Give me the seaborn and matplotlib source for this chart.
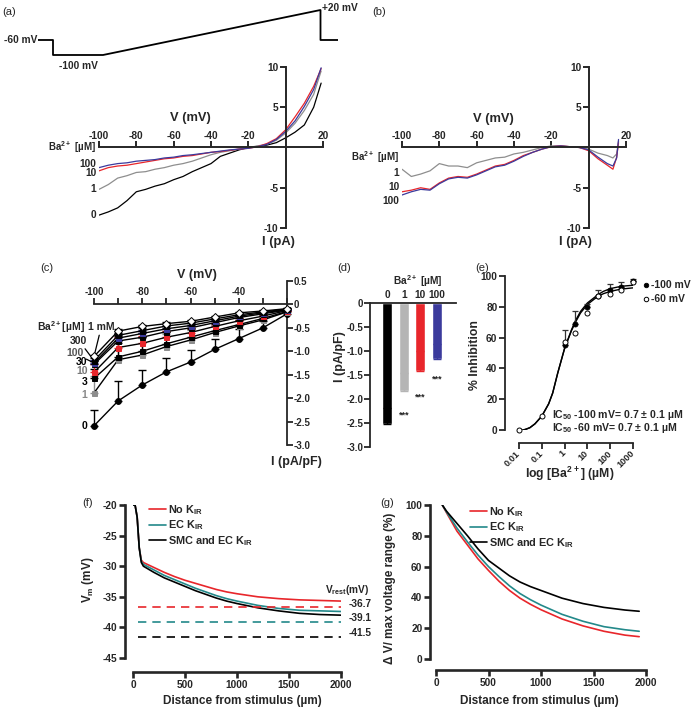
import numpy as np
import pandas as pd
import matplotlib
matplotlib.use('Agg')
import matplotlib.pyplot as plt
import seaborn as sns

sns.set_style('ticks')
plt.rcParams['font.family'] = ['Liberation Sans', 'DejaVu Sans']
plt.rcParams['font.weight'] = 'bold'
plt.rcParams['axes.unicode_minus'] = False
plt.rcParams['mathtext.default'] = 'regular'
plt.rcParams['axes.linewidth'] = 1.3

# ---------------- data ----------------
# (a) voltage protocol
protocol_time_ms = [0, 30, 30, 130, 565, 565, 600]
protocol_mv = [-60, -60, -100, -100, 20, -60, -60]

# (a) I-V traces (pA)
a_v = [-100, -95, -90, -85, -80, -75, -70, -65, -60, -55, -50, -45, -40, -35, -30, -25,
       -20, -15, -10, -5, 0, 5, 10, 15, 19]
a_ba0 = [-8.4, -8.0, -7.5, -6.6, -5.5, -5.2, -4.8, -4.5, -4.0, -3.6, -3.0, -2.5, -2.0, -1.1,
         -0.7, -0.3, 0.0, 0.15, 0.3, 0.6, 1.2, 1.9, 2.8, 5.0, 8.0]
a_ba1 = [-5.2, -4.6, -3.8, -3.5, -3.1, -3.0, -2.7, -2.5, -2.2, -2.0, -1.7, -1.3, -0.9, -0.6,
         -0.4, -0.2, 0.0, 0.2, 0.4, 0.9, 1.8, 3.0, 4.6, 6.6, 9.5]
a_ba10 = [-2.9, -2.5, -2.3, -2.2, -2.0, -1.8, -1.6, -1.4, -1.3, -1.1, -1.0, -0.8, -0.6, -0.5,
          -0.35, -0.2, -0.1, 0.1, 0.5, 1.1, 2.2, 3.8, 5.5, 7.6, 9.8]
a_ba100 = [-2.5, -2.2, -2.0, -1.9, -1.7, -1.6, -1.5, -1.3, -1.2, -1.0, -0.9, -0.75, -0.6, -0.45,
           -0.3, -0.2, -0.1, 0.1, 0.4, 1.0, 2.0, 3.3, 5.1, 7.2, 9.9]

# (b) I-V traces (pA)
b_v = [-100, -95, -90, -85, -80, -75, -70, -65, -60, -55, -50, -45, -40, -35, -30, -25,
       -20, -15, -10, -5, 0, 5, 10, 13, 15, 16]
b_ba1 = [-2.7, -3.6, -3.3, -2.9, -2.0, -2.3, -2.3, -2.5, -1.9, -1.6, -1.3, -1.2, -0.8, -0.6,
         -0.3, 0.0, 0.2, 0.2, 0.1, 0.0, -0.2, -0.7, -1.0, -1.3, -0.8, 0.8]
b_ba10 = [-5.5, -5.3, -5.0, -5.2, -4.4, -3.8, -3.6, -3.7, -3.3, -2.8, -2.3, -2.1, -1.6, -1.0,
          -0.6, -0.2, 0.1, 0.2, 0.1, 0.0, -0.4, -1.4, -2.2, -2.7, -1.2, 0.6]
b_ba100 = [-5.9, -5.5, -5.2, -5.3, -4.5, -3.9, -3.7, -3.8, -3.4, -2.9, -2.4, -2.2, -1.7, -1.1,
           -0.6, -0.2, 0.1, 0.2, 0.1, 0.0, -0.3, -1.2, -2.0, -2.3, -1.3, 1.0]

# (c) mean I-V (pA/pF)
c_v = [-100, -90, -80, -70, -60, -50, -40, -30, -20]
c_labels = ['0', '1', '3', '10', '30', '100', '300', '1 mM']
c_mean = {
    '0':    [-2.59, -2.06, -1.72, -1.44, -1.23, -0.96, -0.73, -0.50, -0.20],
    '1':    [-1.89, -1.18, -1.08, -0.90, -0.76, -0.60, -0.46, -0.33, -0.16],
    '3':    [-1.58, -1.12, -1.00, -0.84, -0.70, -0.56, -0.43, -0.30, -0.15],
    '10':   [-1.45, -0.92, -0.83, -0.70, -0.60, -0.47, -0.35, -0.25, -0.13],
    '30':   [-1.28, -0.78, -0.70, -0.58, -0.50, -0.39, -0.28, -0.20, -0.12],
    '100':  [-1.25, -0.72, -0.62, -0.52, -0.45, -0.35, -0.25, -0.18, -0.11],
    '300':  [-1.20, -0.66, -0.56, -0.46, -0.40, -0.31, -0.22, -0.16, -0.10],
    '1 mM': [-1.11, -0.57, -0.47, -0.41, -0.36, -0.27, -0.18, -0.14, -0.09],
}
c_sem = {
    '0':    [0.34, 0.42, 0.33, 0.30, 0.26, 0.23, 0.20, 0.15, 0.05],
    '1':    [0.37, 0.55, 0.36, 0.27, 0.22, 0.17, 0.12, 0.08, 0.04],
    '3':    [0.20, 0.30, 0.30, 0.25, 0.18, 0.14, 0.10, 0.07, 0.03],
    '10':   [0.18, 0.22, 0.15, 0.13, 0.10, 0.08, 0.07, 0.05, 0.03],
    '30':   [0.08, 0.10, 0.08, 0.07, 0.06, 0.05, 0.04, 0.03, 0.02],
    '100':  [0.06, 0.08, 0.07, 0.06, 0.05, 0.04, 0.03, 0.03, 0.02],
    '300':  [0.05, 0.06, 0.05, 0.05, 0.04, 0.03, 0.03, 0.02, 0.02],
    '1 mM': [0.03, 0.04, 0.03, 0.03, 0.03, 0.02, 0.02, 0.02, 0.01],
}

# (d) bar chart
d_conc = ['0', '1', '10', '100']
d_mean = [-2.53, -1.83, -1.42, -1.16]
d_sem = [0.35, 0.38, 0.41, 0.30]

# (e) concentration-response
e_conc_100 = [1, 3, 10, 30, 100, 300, 1000]
e_inh_100 = [55, 69, 80, 87, 91, 93, 97]
e_err_100 = [10, 8, 1.5, 4, 4, 3, 1]
e_conc_60 = [0.01, 0.1, 1, 3, 10, 30, 100, 300, 1000]
e_inh_60 = [0, 9, 57, 63, 76, 87, 88, 91, 96]
e_fit_conc = [0.01, 0.02, 0.03, 0.05, 0.1, 0.2, 0.3, 0.5, 1, 2, 3, 5, 10, 20, 30, 50, 100, 300, 1000]
e_fit_100 = [-0.8, 0.5, 1.5, 4, 9, 17, 24, 37, 53, 65, 71, 77, 82.5, 86, 88, 90, 91.8, 93.3, 94]
e_fit_60 = [-0.8, 0.5, 1.5, 4, 9, 17, 24, 37, 53, 64.5, 70, 76, 81.5, 85, 86.8, 88.5, 90, 91.5, 92.3]

# (f) membrane potential vs distance
f_dist = [0, 20, 40, 60, 80, 100, 200, 300, 400, 500, 600, 700, 800, 900, 1000, 1200, 1400,
          1600, 1800, 2000]
f_no_kir = [-20, -20, -22, -27, -29.0, -29.4, -30.2, -31.0, -31.7, -32.3, -32.8, -33.3, -33.8,
            -34.2, -34.5, -35.0, -35.3, -35.5, -35.6, -35.7]
f_ec_kir = [-20, -20, -22, -27, -29.2, -29.7, -30.6, -31.5, -32.2, -32.9, -33.6, -34.2, -34.8,
            -35.3, -35.7, -36.4, -36.9, -37.2, -37.3, -37.4]
f_smc_ec_kir = [-20, -20, -22, -27, -29.4, -30.0, -31.0, -31.9, -32.6, -33.3, -34.0, -34.6,
                -35.2, -35.7, -36.1, -36.8, -37.3, -37.7, -37.9, -38.0]
f_vrest = [-36.7, -39.1, -41.5]

# (g) normalised voltage change vs distance
g_dist = [60, 100, 200, 300, 400, 500, 600, 700, 800, 900, 1000, 1200, 1400, 1600, 1800, 1935]
g_no_kir = [100, 95, 83, 74, 65, 57.5, 50.5, 44.5, 39.5, 35.5, 32, 26, 21.5, 18, 15.5, 14.5]
g_ec_kir = [100, 95.5, 85, 76, 67.5, 60, 53.5, 47.5, 42.5, 38.5, 35, 29, 24.5, 21, 19, 18]
g_smc_ec_kir = [100, 96, 88, 80, 71.5, 64, 59, 54, 50, 47, 44.5, 39.5, 36, 33.5, 31.8, 31]

kir_labels = ['No K$_{IR}$', 'EC K$_{IR}$', 'SMC and EC K$_{IR}$']

# colours
RED = '#e8262b'
BLUE = '#3b3a9c'
GREY = '#8e8e8e'
LGREY = '#b5b5b5'
TEAL = '#23898a'

# ---------------- figure ----------------
W, H = 700, 708
fig = plt.figure(figsize=(W / 100, H / 100), dpi=100)


def add_ax(x0, y0, x1, y1):
    return fig.add_axes([x0 / W, 1 - y1 / H, (x1 - x0) / W, (y1 - y0) / H])


def ftext(x, y, s, **kw):
    kw.setdefault('ha', 'center')
    kw.setdefault('va', 'center')
    fig.text(x / W, 1 - y / H, s, **kw)


# panel letters
for lx, ly, s in [(2, 12, '(a)'), (372, 12, '(b)'), (40, 268, '(c)'), (337, 268, '(d)'),
                  (475, 268, '(e)'), (82, 503, '(f)'), (380, 503, '(g)')]:
    ftext(lx, ly, s, ha='left', fontsize=8, fontweight='normal')

# ---- (a) protocol ----
axp = add_ax(38, 5, 338, 70)
sns.lineplot(x=protocol_time_ms, y=protocol_mv, ax=axp, color='black', lw=1.3,
             sort=False, estimator=None)
axp.set_xlim(0, 600)
axp.set_ylim(-140, 33.3)
axp.axis('off')
axp.text(-2, -60, '-60 mV', ha='right', va='center', fontsize=7.3)
axp.text(80, -129, '-100 mV', ha='center', va='center', fontsize=7.3)
axp.text(568, 24, '+20 mV', ha='left', va='center', fontsize=7.3)


def iv_axes(ax):
    ax.set_xlim(-100, 20)
    ax.set_ylim(-10, 10)
    ax.spines['left'].set_position(('data', 0))
    ax.spines['top'].set_position(('data', 0))
    ax.spines['right'].set_visible(False)
    ax.spines['bottom'].set_visible(False)
    for sp in ('left', 'top'):
        ax.spines[sp].set_linewidth(1.4)
    ax.xaxis.tick_top()
    ax.set_xticks([-100, -80, -60, -40, -20, 20])
    ax.set_yticks([-10, -5, 5, 10])
    ax.tick_params(direction='out', length=4, width=1.4, labelsize=7.3, pad=1)
    ax.set_xlabel('')
    ax.set_ylabel('')
    ax.patch.set_alpha(0)


# ---- (a) IV ----
axa = add_ax(99, 67, 323, 228)
for vals, col in [(a_ba0, 'black'), (a_ba1, GREY), (a_ba10, RED), (a_ba100, BLUE)]:
    sns.lineplot(x=a_v, y=vals, color=col, lw=0.9, ax=axa)
iv_axes(axa)
axa.text(-51, 3.7, 'V (mV)', ha='center', va='center', fontsize=9.3)
axa.text(-4, -11.7, 'I (pA)', ha='center', va='center', fontsize=9.3)
axa.text(-101.5, 0, 'Ba$^{2+}$ [µM]', ha='right', va='center', fontsize=7)
for s, yv in [('100', -2.0), ('10', -3.2), ('1', -5.1), ('0', -8.4)]:
    axa.text(-101.5, yv, s, ha='right', va='center', fontsize=7.3)

# ---- (b) IV ----
axb = add_ax(402, 67, 626, 228)
for vals, col in [(b_ba1, GREY), (b_ba10, RED), (b_ba100, BLUE)]:
    sns.lineplot(x=b_v, y=vals, color=col, lw=0.9, ax=axb)
iv_axes(axb)
axb.text(-51, 3.6, 'V (mV)', ha='center', va='center', fontsize=9.3)
axb.text(-7, -11.7, 'I (pA)', ha='center', va='center', fontsize=9.3)
axb.text(-101.5, -1.25, 'Ba$^{2+}$ [µM]', ha='right', va='center', fontsize=7)
for s, yv in [('1', -3.2), ('10', -4.9), ('100', -6.6)]:
    axb.text(-101.5, yv, s, ha='right', va='center', fontsize=7.3)

# ---- (c) ----
axc = add_ax(94, 281, 287, 445)
c_style = {
    '0': ('black', 'o', 'black', 4.2),
    '1': (GREY, 's', GREY, 3.6),
    '3': ('black', 's', 'black', 3.6),
    '10': (RED, 's', RED, 3.6),
    '30': ('black', 's', 'black', 3.6),
    '100': (BLUE, 's', BLUE, 3.6),
    '300': ('black', 's', 'black', 3.6),
    '1 mM': ('black', 'D', 'white', 3.6),
}
for lab in c_labels:
    ecol, mk, fcol, ms = c_style[lab]
    sns.lineplot(x=c_v, y=c_mean[lab], color='black', lw=1.0, ax=axc, zorder=3)
    axc.errorbar(c_v, c_mean[lab], yerr=[np.zeros(len(c_v)), c_sem[lab]], fmt='none',
                 ecolor=ecol if lab != '1 mM' else 'black', elinewidth=1.0, capsize=2.6,
                 capthick=1.0, zorder=2, clip_on=False)
    axc.plot(c_v, c_mean[lab], linestyle='none', marker=mk, ms=ms, mfc=fcol,
             mec='black' if lab in ('0', '1 mM', '3', '30', '300') else ecol, mew=0.7,
             zorder=4, clip_on=False)
axc.set_xlim(-100, -20)
axc.set_ylim(-3.0, 0.5)
axc.spines['top'].set_position(('data', 0))
axc.spines['left'].set_visible(False)
axc.spines['bottom'].set_visible(False)
axc.spines['top'].set_linewidth(1.3)
axc.spines['right'].set_linewidth(1.3)
axc.xaxis.tick_top()
axc.yaxis.tick_right()
axc.set_xticks(c_v)
axc.set_xticklabels(['-100', '', '-80', '', '-60', '', '-40', '', ''])
axc.set_yticks([0.5, 0, -0.5, -1.0, -1.5, -2.0, -2.5, -3.0])
axc.set_yticklabels(['0.5', '0', '-0.5', '-1.0', '-1.5', '-2.0', '-2.5', '-3.0'])
axc.tick_params(direction='out', length=4, width=1.3, labelsize=7, pad=1)
axc.set_xlabel('')
axc.set_ylabel('')
axc.patch.set_alpha(0)
axc.text(-57.3, 0.62, 'V (mV)', ha='center', va='center', fontsize=9)
axc.text(-16, -3.36, 'I (pA/pF)', ha='center', va='center', fontsize=9)
axc.text(-103.7, -0.48, 'Ba$^{2+}$[µM]', ha='right', va='center', fontsize=7.5)
axc.annotate('1 mM', xy=(-100, c_mean['1 mM'][0]), xytext=(-102.5, -0.48), ha='left',
             va='center', fontsize=7.5,
             arrowprops=dict(arrowstyle='-', lw=0.9, color='black', shrinkA=0, shrinkB=2))
axc.annotate('300', xy=(-100, c_mean['300'][0]), xytext=(-102.7, -0.77), ha='right',
             va='center', fontsize=7.5,
             arrowprops=dict(arrowstyle='-', lw=0.9, color='black', shrinkA=0, shrinkB=2))
axc.annotate('100', xy=(-100, c_mean['100'][0]), xytext=(-104.5, -1.04), ha='right',
             va='center', fontsize=7.5, color='#555555',
             arrowprops=dict(arrowstyle='-', lw=0.9, color='black', shrinkA=0, shrinkB=2))
for s, yv, col in [('30', -1.22, 'black'), ('10', -1.43, '#777777'), ('3', -1.65, 'black'),
                   ('1', -1.93, '#888888'), ('0', -2.6, 'black')]:
    axc.text(-102.7, yv, s, ha='right', va='center', fontsize=7.5, color=col)

# ---- (d) ----
axd = add_ax(370, 303, 456, 447)
d_colors = ['black', LGREY, RED, BLUE]
df_d = pd.DataFrame({'conc': d_conc, 'I': d_mean})
sns.barplot(data=df_d, x='conc', y='I', hue='conc', palette=d_colors, order=d_conc,
            width=0.6, ax=axd, legend=False, errorbar=None, saturation=1)
for i in range(len(d_conc)):
    axd.errorbar([i], [d_mean[i]], yerr=[[0], [d_sem[i]]], fmt='none', ecolor=d_colors[i],
                 elinewidth=1.0, capsize=3, capthick=1.0, clip_on=False)
    if i > 0:
        axd.text(i, d_mean[i] - d_sem[i] - 0.04, '***', ha='center', va='top', fontsize=6.5,
                 color='#222222')
axd.set_xlim(-1.02, 4.13)
axd.set_ylim(-3.0, 0)
axd.spines['bottom'].set_visible(False)
axd.spines['right'].set_visible(False)
axd.spines['top'].set_visible(True)
axd.spines['top'].set_linewidth(1.3)
axd.spines['left'].set_linewidth(1.3)
axd.xaxis.tick_top()
axd.tick_params(axis='x', length=0, labelsize=7.3, pad=2)
axd.set_yticks([0, -0.5, -1.0, -1.5, -2.0, -2.5, -3.0])
axd.set_yticklabels(['0', '-0.5', '-1.0', '-1.5', '-2.0', '-2.5', '-3.0'])
axd.tick_params(axis='y', direction='out', length=4, width=1.3, labelsize=7, pad=1)
axd.set_xlabel('')
axd.set_ylabel('')
axd.patch.set_alpha(0)
ftext(418, 281, 'Ba$^{2+}$ [µM]', fontsize=7.3)
ftext(340, 357, 'I (pA/pF)', rotation=90, fontsize=9)

# ---- (e) ----
axe = add_ax(519, 276, 633, 430)
axe.set_xscale('log')
sns.lineplot(x=e_fit_conc, y=e_fit_100, color='black', lw=1.0, ax=axe)
sns.lineplot(x=e_fit_conc, y=e_fit_60, color='black', lw=1.0, ax=axe)
axe.errorbar(e_conc_100, e_inh_100, yerr=[np.zeros(len(e_err_100)), e_err_100], fmt='none',
             ecolor='#333333', elinewidth=0.9, capsize=2.5, capthick=0.9, clip_on=False)
sns.scatterplot(x=e_conc_100, y=e_inh_100, color='black', marker='o', s=13, ax=axe,
                edgecolor='black', linewidth=0.6, zorder=4, clip_on=False, label='-100 mV')
sns.scatterplot(x=e_conc_60, y=e_inh_60, color='white', marker='o', s=13, ax=axe,
                edgecolor='black', linewidth=0.7, zorder=5, clip_on=False, label='-60 mV')
axe.set_xlim(0.01, 1000)
axe.set_ylim(0, 100)
axe.spines['top'].set_visible(False)
axe.spines['right'].set_visible(False)
axe.spines['left'].set_position(('outward', 10))
axe.spines['bottom'].set_position(('outward', 9.4))
axe.set_xticks([0.01, 0.1, 1, 10, 100, 1000])
axe.set_xticklabels(['0.01', '0.1', '1', '10', '100', '1000'], rotation=45, ha='right',
                    va='center', rotation_mode='anchor')
axe.minorticks_off()
axe.set_yticks([0, 20, 40, 60, 80, 100])
axe.tick_params(direction='out', length=4, width=1.3, labelsize=7.3, pad=1.5)
axe.tick_params(axis='x', labelsize=6.6, pad=2.5)
axe.set_xlabel('')
axe.set_ylabel('')
axe.patch.set_alpha(0)
axe.legend(loc='upper left', bbox_to_anchor=(642 / W, 1 - 280 / H),
           bbox_transform=fig.transFigure, frameon=False, fontsize=7.5, handlelength=0.7,
           handletextpad=0.15, labelspacing=0.35, borderpad=0, borderaxespad=0,
           markerscale=0.9)
ftext(475, 355, '% Inhibition', rotation=90, fontsize=8.8)
ftext(570, 474, 'log [Ba$^{2+}$] (µM)', fontsize=8.8)
ftext(552, 415, 'IC$_{50}$ -100 mV= 0.7 ± 0.1 µM', ha='left', fontsize=7.6)
ftext(552, 428, 'IC$_{50}$ -60 mV= 0.7 ± 0.1 µM', ha='left', fontsize=7.6)

# ---- (f) ----
axf = add_ax(133, 505, 341, 658)
for vals, col, lab in [(f_no_kir, RED, kir_labels[0]), (f_ec_kir, TEAL, kir_labels[1]),
                       (f_smc_ec_kir, 'black', kir_labels[2])]:
    sns.lineplot(x=f_dist, y=vals, color=col, lw=1.2, ax=axf, label=lab)
axf.hlines(f_vrest, 48, 2000, colors=[RED, TEAL, 'black'], linestyles=(0, (5, 3.6)), lw=1.2)
for v in f_vrest:
    axf.text(2070, v + 0.6, f'{v:.1f}', ha='left', va='center', fontsize=7.3)
axf.text(1850, -33.9, 'V$_{rest}$(mV)', ha='left', va='center', fontsize=7.3)
axf.set_xlim(0, 2000)
axf.set_ylim(-45, -20)
axf.spines['top'].set_visible(False)
axf.spines['right'].set_visible(False)
axf.spines['left'].set_position(('outward', 5.8))
axf.spines['bottom'].set_position(('outward', 10))
for sp in ('left', 'bottom'):
    axf.spines[sp].set_linewidth(1.9)
axf.set_xticks([0, 500, 1000, 1500, 2000])
axf.set_yticks([-45, -40, -35, -30, -25, -20])
axf.tick_params(direction='out', length=4, width=1.9, labelsize=7.3, pad=1.5)
axf.set_xlabel('')
axf.set_ylabel('')
axf.patch.set_alpha(0)
axf.legend(loc='upper left', bbox_to_anchor=(149 / W, 1 - 503 / H),
           bbox_transform=fig.transFigure, frameon=False, fontsize=7.8, handlelength=1.6,
           handletextpad=0.2, labelspacing=0.15, borderpad=0, borderaxespad=0)
ftext(88, 580, 'V$_m$ (mV)', rotation=90, fontsize=8.5)
ftext(242, 701, 'Distance from stimulus (µm)', fontsize=8.5)

# ---- (g) ----
axg = add_ax(436, 505, 646, 659)
for vals, col, lab in [(g_no_kir, RED, kir_labels[0]), (g_ec_kir, TEAL, kir_labels[1]),
                       (g_smc_ec_kir, 'black', kir_labels[2])]:
    sns.lineplot(x=g_dist, y=vals, color=col, lw=1.2, ax=axg, label=lab)
axg.set_xlim(0, 2000)
axg.set_ylim(0, 100)
axg.spines['top'].set_visible(False)
axg.spines['right'].set_visible(False)
axg.spines['left'].set_position(('outward', 4.3))
axg.spines['bottom'].set_position(('outward', 8))
for sp in ('left', 'bottom'):
    axg.spines[sp].set_linewidth(1.9)
axg.set_xticks([0, 500, 1000, 1500, 2000])
axg.set_yticks([0, 20, 40, 60, 80, 100])
axg.tick_params(direction='out', length=4, width=1.9, labelsize=7.3, pad=1.5)
axg.set_xlabel('')
axg.set_ylabel('')
axg.patch.set_alpha(0)
axg.legend(loc='upper left', bbox_to_anchor=(470 / W, 1 - 505 / H),
           bbox_transform=fig.transFigure, frameon=False, fontsize=7.8, handlelength=1.6,
           handletextpad=0.2, labelspacing=0.15, borderpad=0, borderaxespad=0)
ftext(390, 588, 'Δ V/ max voltage range (%)', rotation=90, fontsize=8.5)
ftext(539, 701, 'Distance from stimulus (µm)', fontsize=8.5)

fig.savefig('out.png', dpi=100)
